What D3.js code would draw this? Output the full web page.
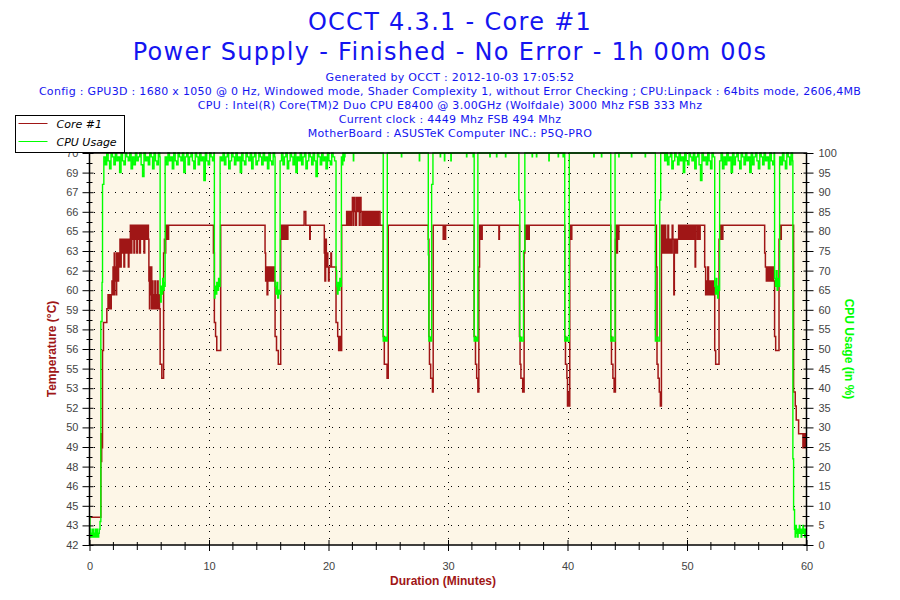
<!DOCTYPE html>
<html>
<head>
<meta charset="utf-8">
<script src="https://cdn.jsdelivr.net/npm/d3@7/dist/d3.min.js"></script>
<style>
  body { margin: 0; background: #fff; }
  svg { display: block; }
</style>
</head>
<body>
<div id="chart"></div>
<script>
// Header text
const titleLines = [
  'OCCT 4.3.1 - Core #1',
  'Power Supply - Finished - No Error - 1h 00m 00s'
];
const infoLines = [
  'Generated by OCCT : 2012-10-03 17:05:52',
  'Config : GPU3D : 1680 x 1050 @ 0 Hz, Windowed mode, Shader Complexity 1, without Error Checking ; CPU:Linpack : 64bits mode, 2606,4MB',
  'CPU : Intel(R) Core(TM)2 Duo CPU E8400 @ 3.00GHz (Wolfdale) 3000 Mhz FSB 333 Mhz',
  'Current clock : 4449 Mhz FSB 494 Mhz',
  'MotherBoard : ASUSTeK Computer INC.: P5Q-PRO'
];

// Axis labels / ticks
const seriesNames = ['Core #1', 'CPU Usage'];
const tempDomain = [42, 70.2];
const tempTickLabels = [42, 43, 45, 46, 48, 49, 50, 52, 53, 55, 56, 58, 59, 60, 62, 63, 65, 66, 67, 69, 70];
const cpuTicks = [0, 5, 10, 15, 20, 25, 30, 35, 40, 45, 50, 55, 60, 65, 70, 75, 80, 85, 90, 95, 100];
const minuteTicks = [0, 10, 20, 30, 40, 50, 60];
const minuteMinorTicks = [2, 4, 6, 8, 12, 14, 16, 18, 22, 24, 26, 28, 32, 34, 36, 38, 42, 44, 46, 48, 52, 54, 56, 58];

// Core #1 temperature, [minute, °C]
const coreTemp = [
  [0, 44], [0.95, 50], [0.98, 48], [1.02, 49], [1.09, 56], [1.17, 58], [1.45, 59], [1.55, 60], [1.6, 59],
  [1.68, 60], [1.75, 59], [1.82, 60], [1.88, 61], [1.92, 60], [1.97, 62], [2.02, 60], [2.07, 63], [2.12, 61],
  [2.17, 62], [2.22, 60], [2.27, 63], [2.33, 62], [2.38, 61], [2.43, 63], [2.5, 62], [2.55, 64], [2.6, 62],
  [2.65, 63], [2.7, 64], [2.76, 63], [2.82, 64], [2.88, 62], [2.94, 64], [3.0, 63], [3.06, 64], [3.12, 63],
  [3.18, 64], [3.25, 62], [3.3, 64], [3.36, 63], [3.42, 65], [3.48, 63], [3.54, 65], [3.6, 64], [3.66, 65],
  [3.72, 63], [3.78, 65], [3.84, 64], [3.9, 65], [3.96, 63], [4.02, 65], [4.08, 64], [4.14, 65], [4.2, 63],
  [4.26, 65], [4.32, 64], [4.38, 65], [4.44, 64], [4.5, 65], [4.56, 63], [4.62, 65], [4.68, 64], [4.74, 65],
  [4.8, 64], [4.86, 65], [4.93, 64], [4.97, 61], [5.02, 59], [5.06, 62], [5.1, 60], [5.15, 62], [5.21, 59],
  [5.26, 61], [5.31, 59], [5.36, 60], [5.42, 59], [5.47, 61], [5.52, 59], [5.58, 60], [5.63, 59], [5.68, 61],
  [5.74, 59], [5.8, 60], [5.86, 59], [5.91, 55], [6.05, 54], [6.2, 63], [6.27, 64], [6.32, 63], [6.38, 65],
  [6.44, 64], [6.5, 65], [6.56, 64], [6.62, 65],
  [10.37, 63], [10.45, 58], [10.55, 57], [10.65, 56], [10.98, 65],
  [14.69, 63], [14.74, 61], [14.8, 62], [14.86, 60], [14.92, 62], [14.97, 61], [15.03, 62], [15.09, 61],
  [15.15, 62], [15.21, 61], [15.27, 62], [15.33, 61], [15.4, 62], [15.46, 61], [15.53, 57], [15.65, 56],
  [15.8, 55], [16.0, 64], [16.06, 65], [16.12, 64], [16.2, 65], [16.3, 64], [16.4, 65], [16.5, 64], [16.6, 65],
  [17.96, 66], [18.1, 65], [18.43, 64], [18.47, 65],
  [19.65, 63], [19.7, 61], [19.76, 64], [19.82, 62], [19.88, 63], [19.94, 62], [20.0, 61], [20.05, 62],
  [20.2, 63], [20.25, 62], [20.63, 58], [20.77, 57], [20.85, 56], [20.95, 57], [21.0, 56], [21.1, 65],
  [21.52, 66], [21.58, 65], [21.64, 66], [21.7, 65], [21.78, 66], [21.85, 65], [21.92, 66], [22.0, 67],
  [22.06, 65], [22.12, 67], [22.2, 66], [22.28, 65], [22.34, 67], [22.42, 66], [22.5, 67], [22.58, 65],
  [22.64, 67], [22.72, 66], [22.8, 65], [22.88, 66], [22.96, 65], [23.04, 66], [23.12, 65], [23.2, 66],
  [23.3, 65], [23.38, 66], [23.46, 65], [23.54, 66], [23.62, 65], [23.7, 66], [23.78, 65], [23.86, 66],
  [23.94, 65], [24.02, 66], [24.1, 65], [24.18, 66], [24.31, 65], [24.58, 57], [24.67, 55], [24.9, 54], [25.0, 65],
  [28.35, 64], [28.4, 57], [28.45, 55], [28.55, 54], [28.7, 53], [28.76, 65], [29.6, 64], [29.65, 65],
  [29.75, 64], [29.8, 65],
  [32.19, 57], [32.3, 55], [32.4, 54], [32.5, 53], [32.58, 62], [32.64, 65], [32.7, 64], [32.74, 65],
  [32.82, 64], [32.86, 65], [34.26, 64], [34.3, 65],
  [35.98, 57], [36.03, 55], [36.1, 54], [36.25, 53], [36.37, 63], [36.43, 65], [36.5, 64], [36.55, 65],
  [36.62, 64], [36.67, 65], [36.75, 64], [36.8, 65],
  [39.77, 57], [39.83, 55], [39.95, 54], [40.0, 52], [40.08, 53], [40.12, 52], [40.19, 64], [40.25, 65],
  [40.3, 64], [40.36, 65],
  [43.62, 57], [43.68, 55], [43.8, 54], [43.9, 53], [44.01, 64], [44.06, 65], [44.12, 63], [44.18, 65],
  [44.25, 64], [44.3, 65],
  [47.44, 62], [47.49, 55], [47.58, 54], [47.68, 53], [47.77, 52], [47.86, 65], [47.92, 63], [47.98, 65],
  [48.04, 64], [48.1, 63], [48.16, 65], [48.22, 63], [48.28, 64], [48.34, 63], [48.4, 65], [48.46, 63],
  [48.52, 64], [48.58, 63], [48.64, 64], [48.7, 63], [48.76, 65], [48.82, 64], [48.9, 60], [48.94, 64],
  [49.0, 63], [49.06, 64], [49.12, 63], [49.2, 64], [49.3, 65], [49.36, 64], [49.42, 65], [49.48, 64],
  [49.56, 65], [49.62, 64], [49.7, 65], [49.78, 64], [49.86, 65], [49.92, 64], [50.0, 65], [50.1, 64],
  [50.2, 65], [50.3, 64], [50.4, 65], [50.5, 64], [50.6, 65], [50.68, 62], [50.72, 65], [50.85, 64],
  [50.92, 65], [51.0, 64], [51.1, 65],
  [51.48, 62], [51.56, 60], [51.62, 61], [51.68, 60], [51.74, 62], [51.8, 60], [51.86, 61], [51.92, 60],
  [51.98, 61], [52.04, 60], [52.1, 61], [52.16, 60], [52.22, 61], [52.32, 56], [52.4, 55], [52.68, 64],
  [52.75, 65], [52.8, 64], [52.86, 65], [52.92, 64], [53.0, 65],
  [56.5, 63], [56.56, 62], [56.64, 61], [56.7, 62], [56.78, 61], [56.86, 62], [56.94, 61], [57.0, 62],
  [57.08, 61], [57.16, 62], [57.24, 61], [57.33, 57], [57.42, 56], [57.7, 64], [57.76, 65], [57.82, 64],
  [57.89, 65],
  [58.92, 53], [59.06, 52], [59.14, 51], [59.34, 50], [59.7, 49], [59.74, 50], [59.78, 49], [59.82, 50],
  [59.86, 49], [59.9, 50], [59.94, 49], [60, 49]
];

// CPU usage, [minute, %]
const cpuUsage = [
  [0, 7], [0.04, 2], [0.08, 4], [0.12, 2], [0.17, 3], [0.22, 2], [0.27, 4], [0.32, 2], [0.37, 3], [0.42, 2],
  [0.47, 4], [0.52, 3], [0.57, 2], [0.62, 4], [0.67, 3], [0.72, 2], [0.77, 3], [0.82, 4], [0.88, 6],
  [0.95, 57], [1.05, 67], [1.09, 92],
  [1.2, 99], [1.32, 97], [1.44, 100], [1.56, 98], [1.68, 96], [1.8, 100], [1.92, 99], [2.04, 97], [2.16, 100],
  [2.28, 98], [2.4, 99], [2.52, 95], [2.64, 100], [2.76, 98], [2.88, 97], [3.0, 100], [3.12, 99], [3.24, 98],
  [3.36, 100], [3.48, 96], [3.6, 99], [3.72, 97], [3.84, 100], [3.96, 98], [4.08, 99], [4.2, 100], [4.32, 97],
  [4.44, 94], [4.56, 100], [4.68, 98], [4.8, 99], [4.92, 97], [5.04, 100], [5.16, 99], [5.28, 96], [5.4, 100],
  [5.52, 98], [5.64, 97], [5.76, 100], [5.88, 99],
  [5.91, 64], [5.95, 62], [6.0, 66], [6.06, 64], [6.12, 68], [6.18, 65], [6.24, 67], [6.3, 66],
  [6.33, 99], [6.45, 97], [6.57, 100], [6.69, 98], [6.81, 99], [6.93, 96], [7.05, 100], [7.17, 98], [7.29, 97],
  [7.41, 100], [7.53, 99], [7.65, 98], [7.77, 100], [7.89, 95], [8.01, 99], [8.13, 100], [8.25, 97], [8.37, 99],
  [8.49, 100], [8.61, 98], [8.73, 96], [8.85, 100], [8.97, 99], [9.09, 97], [9.21, 100], [9.33, 98], [9.45, 99],
  [9.57, 93], [9.69, 100], [9.81, 98], [9.93, 97], [10.05, 100], [10.17, 99], [10.29, 98], [10.41, 100],
  [10.45, 63], [10.5, 66], [10.58, 64], [10.65, 67], [10.72, 65], [10.8, 68], [10.86, 66],
  [10.93, 99], [11.05, 98], [11.17, 100], [11.29, 97], [11.41, 99], [11.53, 100], [11.65, 96], [11.77, 98],
  [11.89, 100], [12.01, 99], [12.13, 97], [12.25, 100], [12.37, 98], [12.49, 99], [12.61, 95], [12.73, 100],
  [12.85, 98], [12.97, 97], [13.09, 100], [13.21, 99], [13.33, 98], [13.45, 100], [13.57, 96], [13.69, 99],
  [13.81, 100], [13.93, 97], [14.05, 98], [14.17, 100], [14.29, 99], [14.41, 97], [14.53, 100], [14.65, 98],
  [14.77, 99], [14.89, 96], [15.01, 100], [15.13, 98], [15.25, 97], [15.37, 100], [15.49, 99],
  [15.53, 66], [15.6, 64], [15.68, 67], [15.75, 63], [15.82, 65], [15.9, 64],
  [15.95, 98], [16.07, 100], [16.19, 97], [16.31, 99], [16.43, 100], [16.55, 96], [16.67, 98], [16.79, 100],
  [16.91, 99], [17.03, 97], [17.15, 100], [17.27, 95], [17.39, 99], [17.51, 98], [17.63, 100], [17.75, 97],
  [17.87, 99], [17.99, 100], [18.11, 96], [18.23, 98], [18.35, 100], [18.47, 99], [18.59, 97], [18.71, 100],
  [18.83, 98], [18.95, 94], [19.07, 100], [19.19, 99], [19.31, 97], [19.43, 100], [19.55, 98], [19.67, 99],
  [19.79, 96], [19.91, 100], [20.03, 98], [20.15, 97], [20.27, 100], [20.39, 99], [20.51, 98],
  [20.63, 70], [20.68, 66], [20.74, 64], [20.8, 67], [20.88, 65], [20.95, 68], [21.02, 66],
  [21.08, 99], [21.14, 97], [21.2, 100], [21.26, 98], [21.32, 99], [21.38, 100],
  [22.08, 98], [22.11, 100], [24.58, 52], [24.7, 53], [24.8, 52], [24.92, 100], [26.1, 99], [26.13, 100],
  [27.6, 98], [27.63, 100],
  [28.35, 74], [28.4, 52], [28.5, 53], [28.56, 52], [28.63, 92], [28.74, 100], [29.35, 99], [29.38, 100],
  [29.7, 98], [29.73, 100], [30.24, 98], [30.27, 100], [31.55, 99], [31.58, 100], [32.1, 99], [32.13, 100],
  [32.19, 52], [32.3, 53], [32.4, 52], [32.5, 100],
  [33.5, 99], [33.53, 100], [34.06, 99], [34.09, 100], [34.81, 99], [34.84, 100],
  [35.93, 88], [36.01, 52], [36.1, 53], [36.18, 52], [36.32, 75], [36.43, 100],
  [37.04, 99], [37.07, 100], [37.4, 99], [37.43, 100], [38.44, 98], [38.47, 100], [39.22, 99], [39.25, 100],
  [39.63, 99], [39.66, 100],
  [39.77, 52], [39.9, 53], [40.0, 52], [40.15, 100],
  [42.2, 99], [42.23, 100], [42.84, 99], [42.87, 100],
  [43.62, 52], [43.76, 53], [43.82, 52], [43.98, 100],
  [44.29, 99], [44.32, 100], [45.35, 99], [45.38, 100], [46.5, 99], [46.53, 100],
  [47.35, 52], [47.5, 53], [47.58, 52], [47.72, 88], [47.8, 100],
  [48.13, 98], [48.25, 100], [48.37, 97], [48.49, 99], [48.61, 100], [48.73, 96], [48.85, 98], [48.97, 100],
  [49.09, 99], [49.21, 97], [49.33, 100], [49.45, 98], [49.57, 99], [49.69, 95], [49.81, 100], [49.93, 98],
  [50.05, 97], [50.17, 100], [50.29, 99], [50.41, 98], [50.53, 100], [50.65, 96], [50.77, 99], [50.89, 100],
  [51.01, 97], [51.13, 93], [51.25, 100], [51.37, 98], [51.49, 99], [51.61, 97], [51.73, 100], [51.85, 98],
  [51.97, 96], [52.09, 100], [52.21, 99],
  [52.32, 66], [52.38, 64], [52.45, 68], [52.5, 65], [52.56, 63], [52.62, 66], [52.68, 65],
  [52.73, 98], [52.85, 100], [52.97, 96], [53.09, 99], [53.21, 97], [53.33, 100], [53.45, 98], [53.57, 99],
  [53.69, 95], [53.81, 100], [53.93, 97], [54.05, 99], [54.17, 100], [54.29, 98], [54.41, 96], [54.53, 100],
  [54.65, 99], [54.77, 97], [54.89, 100], [55.01, 98], [55.13, 99], [55.25, 95], [55.37, 100], [55.49, 97],
  [55.61, 99], [55.73, 100], [55.85, 98], [55.97, 96], [56.09, 100], [56.21, 99], [56.33, 97], [56.45, 100],
  [56.57, 98], [56.69, 99], [56.81, 96], [56.93, 100], [57.05, 98], [57.17, 97], [57.29, 100],
  [57.33, 68], [57.4, 66], [57.47, 70], [57.54, 65], [57.6, 68], [57.68, 66],
  [57.75, 99], [57.87, 97], [57.99, 100], [58.11, 98], [58.23, 96], [58.35, 100], [58.47, 99], [58.59, 97],
  [58.71, 100], [58.83, 98],
  [58.86, 22], [58.92, 9], [59.0, 4], [59.05, 2], [59.1, 5], [59.15, 3], [59.2, 4], [59.25, 2], [59.3, 4],
  [59.35, 3], [59.4, 5], [59.45, 3], [59.5, 4], [59.55, 2], [59.6, 4], [59.65, 3], [59.7, 5], [59.75, 3],
  [59.8, 4], [59.85, 2], [59.9, 4], [59.95, 3], [60, 3]
];

const width = 900;
const height = 600;
const plot = { left: 89.5, right: 806.5, top: 153, bottom: 545 };
const colors = { temp: '#a01616', cpu: '#00ff00', text: '#1414f0', grid: '#000' };
const tickFont = '"Liberation Sans", Arial, sans-serif';
const headFont = '"DejaVu Sans", Verdana, sans-serif';

const svg = d3.select('#chart')
  .append('svg')
  .attr('width', width)
  .attr('height', height)
  .attr('viewBox', [0, 0, width, height]);

svg.append('rect').attr('width', width).attr('height', height).attr('fill', '#fff');

// Scales
const x = d3.scaleLinear().domain([0, 60]).range([plot.left, plot.right]);
const yCpu = d3.scaleLinear().domain([0, 100]).range([plot.bottom, plot.top]);
const yTemp = d3.scaleLinear().domain(tempDomain).range([plot.bottom, plot.top]);

// Header (Verdana is wider than DejaVu, so open the letters a little)
svg.append('g')
  .selectAll('text')
  .data(titleLines)
  .join('text')
  .attr('x', 450)
  .attr('y', (d, i) => 30 + i * 30)
  .attr('text-anchor', 'middle')
  .attr('font-family', headFont)
  .attr('font-size', 24)
  .attr('letter-spacing', 1.3)
  .attr('fill', colors.text)
  .text(d => d);

svg.append('g')
  .selectAll('text')
  .data(infoLines)
  .join('text')
  .attr('x', 450)
  .attr('y', (d, i) => 81 + i * 14)
  .attr('text-anchor', 'middle')
  .attr('font-family', headFont)
  .attr('font-size', 11)
  .attr('letter-spacing', 0.3)
  .attr('fill', colors.text)
  .text(d => d);

// Plot background
svg.append('rect')
  .attr('x', plot.left)
  .attr('y', plot.top)
  .attr('width', plot.right - plot.left)
  .attr('height', plot.bottom - plot.top)
  .attr('fill', '#fdf6e7');

// Dotted grid
const cpuGrid = cpuTicks.filter(d => d > 0 && d < 100);
svg.append('g')
  .attr('shape-rendering', 'crispEdges')
  .selectAll('line')
  .data(cpuGrid)
  .join('line')
  .attr('x1', plot.left + 4)
  .attr('x2', plot.right)
  .attr('y1', d => Math.round(yCpu(d)) + 0.5)
  .attr('y2', d => Math.round(yCpu(d)) + 0.5)
  .attr('stroke', colors.grid)
  .attr('stroke-dasharray', '1,6');

svg.append('g')
  .attr('shape-rendering', 'crispEdges')
  .selectAll('line')
  .data(minuteTicks.filter(d => d > 0 && d < 60))
  .join('line')
  .attr('x1', d => Math.round(x(d)) + 0.5)
  .attr('x2', d => Math.round(x(d)) + 0.5)
  .attr('y1', plot.top)
  .attr('y2', plot.bottom)
  .attr('stroke', colors.grid)
  .attr('stroke-dasharray', '1,6');

// Series
svg.append('clipPath')
  .attr('id', 'plot-clip')
  .append('rect')
  .attr('x', plot.left)
  .attr('y', plot.top - 1)
  .attr('width', plot.right - plot.left)
  .attr('height', plot.bottom - plot.top + 1);

const tempLine = d3.line()
  .x(d => x(d[0]))
  .y(d => yTemp(d[1]))
  .curve(d3.curveStepAfter);

const cpuLine = d3.line()
  .x(d => x(d[0]))
  .y(d => yCpu(d[1]))
  .curve(d3.curveStepAfter);

const series = svg.append('g').attr('clip-path', 'url(#plot-clip)');

series.append('path')
  .attr('d', tempLine(coreTemp))
  .attr('fill', 'none')
  .attr('stroke', colors.temp)
  .attr('stroke-width', 1.5);

series.append('path')
  .attr('d', cpuLine(cpuUsage))
  .attr('fill', 'none')
  .attr('stroke', colors.cpu)
  .attr('stroke-width', 1.4);

// Axes
function styleAxis(g, fontSize) {
  g.select('.domain').remove();
  g.selectAll('text')
    .attr('font-family', tickFont)
    .attr('font-size', fontSize)
    .attr('fill', '#444');
  g.selectAll('line').attr('stroke', '#000');
}

const tempTickValues = tempTickLabels.map((d, i) =>
  tempDomain[0] + i * (tempDomain[1] - tempDomain[0]) / (tempTickLabels.length - 1));

svg.append('g')
  .attr('transform', `translate(${plot.left},0)`)
  .call(d3.axisLeft(yTemp)
    .tickValues(tempTickValues)
    .tickFormat((d, i) => tempTickLabels[i])
    .tickSize(7)
    .tickPadding(4))
  .call(g => styleAxis(g, 11))
  .call(g => g.selectAll('line').attr('x2', 4).attr('x1', -7));

// Left minor ticks between the labelled ones
svg.append('g')
  .selectAll('line')
  .data(tempTickValues.slice(1))
  .join('line')
  .attr('x1', plot.left - 3)
  .attr('x2', plot.left + 3)
  .attr('y1', (d, i) => Math.round((yTemp(d) + yTemp(tempTickValues[i])) / 2) + 0.5)
  .attr('y2', (d, i) => Math.round((yTemp(d) + yTemp(tempTickValues[i])) / 2) + 0.5)
  .attr('stroke', '#000');

svg.append('g')
  .attr('transform', `translate(${plot.right},0)`)
  .call(d3.axisRight(yCpu)
    .tickValues(cpuTicks)
    .tickSize(7)
    .tickPadding(5))
  .call(g => styleAxis(g, 11))
  .call(g => g.selectAll('line').attr('x1', -3).attr('x2', 7));

svg.append('g')
  .selectAll('line')
  .data(cpuTicks.slice(1))
  .join('line')
  .attr('x1', plot.right - 4)
  .attr('x2', plot.right + 3)
  .attr('y1', d => Math.round(yCpu(d - 2.5)) + 0.5)
  .attr('y2', d => Math.round(yCpu(d - 2.5)) + 0.5)
  .attr('stroke', '#000');

svg.append('g')
  .attr('transform', `translate(0,${plot.bottom})`)
  .call(d3.axisBottom(x)
    .tickValues(minuteTicks)
    .tickFormat(d3.format('d'))
    .tickSize(6)
    .tickPadding(11))
  .call(g => styleAxis(g, 11))
  .call(g => g.selectAll('line').attr('y1', -5).attr('y2', 6));

svg.append('g')
  .selectAll('line')
  .data(minuteMinorTicks)
  .join('line')
  .attr('x1', d => x(d))
  .attr('x2', d => x(d))
  .attr('y1', plot.bottom - 3)
  .attr('y2', plot.bottom + 5)
  .attr('stroke', '#000');

// Axis lines around the plot
svg.append('rect')
  .attr('x', plot.left)
  .attr('y', plot.top)
  .attr('width', plot.right - plot.left)
  .attr('height', plot.bottom - plot.top)
  .attr('fill', 'none')
  .attr('stroke', '#000')
  .attr('stroke-width', 1.5);

// Axis titles
svg.append('text')
  .attr('transform', `translate(56,${(plot.top + plot.bottom) / 2}) rotate(-90)`)
  .attr('text-anchor', 'middle')
  .attr('font-family', tickFont)
  .attr('font-weight', 'bold')
  .attr('font-size', 12)
  .attr('fill', colors.temp)
  .text('Temperature (°C)');

svg.append('text')
  .attr('transform', `translate(845,${(plot.top + plot.bottom) / 2}) rotate(90)`)
  .attr('text-anchor', 'middle')
  .attr('font-family', tickFont)
  .attr('font-weight', 'bold')
  .attr('font-size', 12)
  .attr('fill', colors.cpu)
  .text('CPU Usage (in %)');

svg.append('text')
  .attr('x', 443)
  .attr('y', 585)
  .attr('text-anchor', 'middle')
  .attr('font-family', tickFont)
  .attr('font-weight', 'bold')
  .attr('font-size', 12)
  .attr('fill', colors.temp)
  .text('Duration (Minutes)');

// Legend
const legend = svg.append('g').attr('transform', 'translate(15.5,115.5)');
legend.append('rect')
  .attr('width', 109)
  .attr('height', 37)
  .attr('fill', '#fff')
  .attr('stroke', '#000');

const legendItems = legend.selectAll('g.item')
  .data(seriesNames)
  .join('g')
  .attr('class', 'item')
  .attr('transform', (d, i) => `translate(0,${8 + i * 18})`);

legendItems.append('line')
  .attr('x1', 3)
  .attr('x2', 32)
  .attr('stroke', (d, i) => i === 0 ? colors.temp : colors.cpu);

legendItems.append('text')
  .attr('x', 41)
  .attr('y', 4)
  .attr('font-family', headFont)
  .attr('font-style', 'italic')
  .attr('font-size', 11)
  .attr('fill', '#000')
  .text(d => d);
</script>
</body>
</html>
